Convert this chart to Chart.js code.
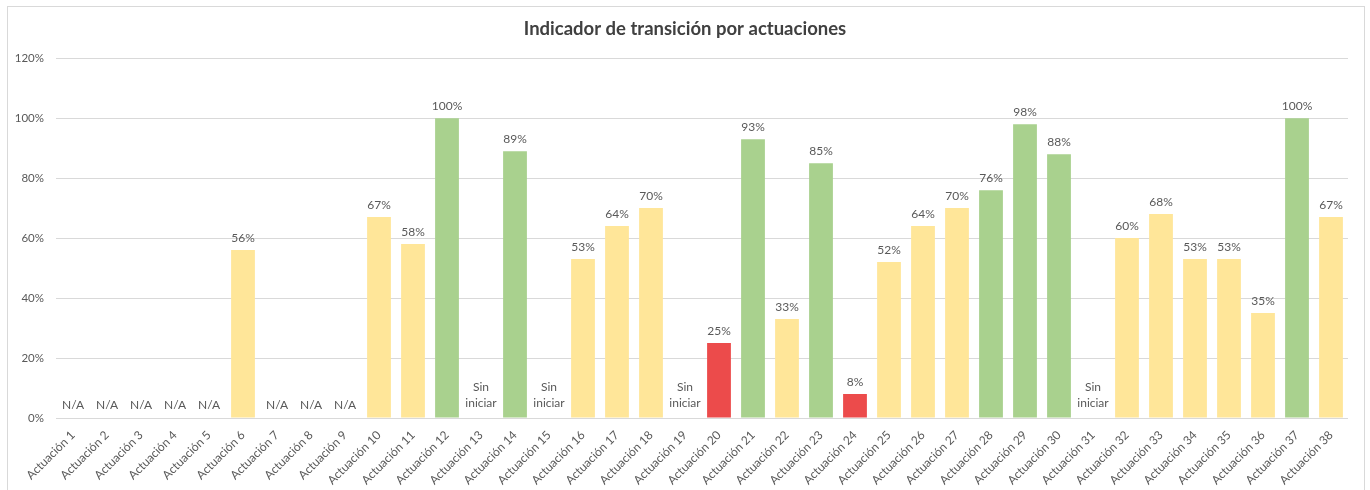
<!DOCTYPE html>
<html>
<head>
<meta charset="utf-8">
<script src="https://cdn.jsdelivr.net/npm/chart.js@4/dist/chart.umd.min.js"></script>
<style>
  html, body { margin: 0; padding: 0; background: #fff; }
  #wrap { width: 1370px; height: 490px; position: relative; }
</style>
</head>
<body>
<div id="wrap"><canvas id="chart" width="1370" height="490"></canvas></div>
<script>
  /* ---------- Data ---------- */
  const categories = Array.from({ length: 38 }, (_, i) => `Actuación ${i + 1}`);

  // percent per actuación, null = no value (N/A or Sin iniciar)
  const values = [
    null, null, null, null, null, 56, null, null, null, 67,
    58, 100, null, 89, null, 53, 64, 70, null, 25,
    93, 33, 85, 8, 52, 64, 70, 76, 98, 88,
    null, 60, 68, 53, 53, 35, 100, 67
  ];

  // actuaciones (1-based) without value that are "Sin iniciar"; the rest are N/A
  const sinIniciar = [13, 15, 19, 31];

  const yTicks = [0, 20, 40, 60, 80, 100, 120];

  /* ---------- Helpers ---------- */
  const FONT = "Lato, 'Noto Sans', sans-serif";
  const TEXT = "#595959";

  const barColor = v =>
      v == null ? "transparent"
    : v >= 75   ? "#A9D18E"
    : v >= 30   ? "#FFE699"
    : "#EC4B4B";

  /* ---------- Plugins ---------- */
  const frame = {
    id: "frame",
    beforeDraw(chart) {
      const { ctx } = chart;
      ctx.save();
      ctx.strokeStyle = "#d9d9d9";
      ctx.lineWidth = 1;
      ctx.strokeRect(7.5, 6.5, 1357, 490);
      ctx.restore();
    }
  };

  const barLabels = {
    id: "barLabels",
    afterDatasetsDraw(chart) {
      const { ctx } = chart;
      const zero = chart.scales.y.getPixelForValue(0);
      const meta = chart.getDatasetMeta(0);
      ctx.save();
      ctx.font = `12px ${FONT}`;
      ctx.fillStyle = TEXT;
      ctx.textAlign = "center";
      ctx.textBaseline = "middle";
      meta.data.forEach((bar, i) => {
        const v = values[i];
        if (v != null) {
          ctx.fillText(`${v}%`, bar.x, bar.y - 12);
        } else if (sinIniciar.includes(i + 1)) {
          ctx.fillText("Sin", bar.x, zero - 31);
          ctx.fillText("iniciar", bar.x, zero - 15);
        } else {
          ctx.fillText("N/A", bar.x, zero - 13);
        }
      });
      ctx.restore();
    }
  };

  /* ---------- Chart ---------- */
  new Chart(document.getElementById("chart"), {
    type: "bar",
    data: {
      labels: categories,
      datasets: [{
        data: values,
        backgroundColor: values.map(barColor),
        borderWidth: 0,
        categoryPercentage: 1,
        barPercentage: 0.7
      }]
    },
    options: {
      responsive: false,
      animation: false,
      layout: { padding: 0 },
      plugins: {
        legend: { display: false },
        tooltip: { enabled: false },
        title: {
          display: true,
          text: "Indicador de transición por actuaciones",
          color: "#404040",
          font: { family: FONT, size: 18.5, weight: "bold" },
          padding: { top: 18, bottom: 18 }
        }
      },
      scales: {
        x: {
          grid: { display: false },
          border: { display: false },
          ticks: {
            color: TEXT,
            font: { family: FONT, size: 12 },
            minRotation: 45,
            maxRotation: 45,
            autoSkip: false,
            padding: 2
          },
          afterFit(s) { s.height = 72; }
        },
        y: {
          min: 0,
          max: 120,
          afterBuildTicks(s) { s.ticks = yTicks.map(v => ({ value: v })); },
          grid: { color: "#d9d9d9", drawTicks: false },
          border: { display: false },
          ticks: {
            color: TEXT,
            font: { family: FONT, size: 11.5 },
            padding: 12,
            callback: v => `${v}%`
          },
          afterFit(s) { s.width = 56; }
        },
        // empty right margin so the title stays centred on the whole frame
        spacer: {
          type: "linear",
          position: "right",
          grid: { display: false },
          border: { display: false },
          ticks: { display: false },
          afterFit(s) { s.width = 22; }
        }
      }
    },
    plugins: [frame, barLabels]
  });
</script>
</body>
</html>
